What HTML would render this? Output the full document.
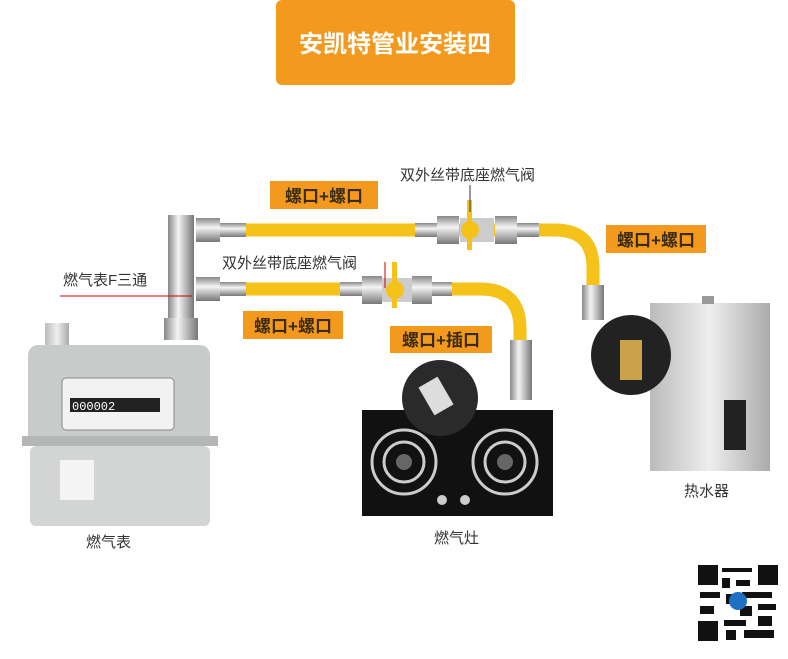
<!DOCTYPE html>
<html><head><meta charset="utf-8"><style>
body{margin:0;background:#fff;width:788px;height:654px;overflow:hidden;font-family:"Liberation Sans","Noto Sans CJK SC",sans-serif}
</style></head><body>
<svg width="788" height="654" viewBox="0 0 788 654" xmlns="http://www.w3.org/2000/svg" font-family="Liberation Sans, Noto Sans CJK SC, sans-serif">
<defs>
<linearGradient id="chrome" x1="0" y1="0" x2="0" y2="1"><stop offset="0" stop-color="#888"/><stop offset=".4" stop-color="#f4f4f4"/><stop offset="1" stop-color="#777"/></linearGradient>
<linearGradient id="chromeV" x1="0" y1="0" x2="1" y2="0"><stop offset="0" stop-color="#888"/><stop offset=".4" stop-color="#f4f4f4"/><stop offset="1" stop-color="#777"/></linearGradient>
<linearGradient id="steel" x1="0" y1="0" x2="1" y2="0"><stop offset="0" stop-color="#bbb"/><stop offset=".5" stop-color="#eee"/><stop offset="1" stop-color="#aaa"/></linearGradient>
</defs>
<!-- header -->
<rect x="276" y="0" width="239" height="85" rx="6" fill="#f39a1e"/>
<text x="395" y="52" font-size="24" fill="#fff" text-anchor="middle" font-weight="bold">安凯特管业安装四</text>

<!-- tee vertical -->
<rect x="168" y="215" width="26" height="110" fill="url(#chromeV)"/>
<rect x="164" y="318" width="34" height="22" fill="url(#chromeV)"/>
<!-- upper pipe -->
<path d="M200 230 H555 Q593 230 593 268 V300" fill="none" stroke="#f5c21a" stroke-width="13"/>
<rect x="196" y="218" width="24" height="24" fill="url(#chrome)"/>
<rect x="220" y="223" width="26" height="14" fill="url(#chrome)"/>
<rect x="415" y="223" width="24" height="14" fill="url(#chrome)"/>
<rect x="437" y="216" width="22" height="28" fill="url(#chrome)"/>
<rect x="495" y="216" width="22" height="28" fill="url(#chrome)"/>
<rect x="517" y="223" width="22" height="14" fill="url(#chrome)"/>
<rect x="460" y="218" width="34" height="24" fill="#ccc"/>
<circle cx="470" cy="230" r="9" fill="#f5c21a"/>
<rect x="467" y="200" width="5" height="50" fill="#f5c21a"/>
<rect x="582" y="285" width="22" height="35" fill="url(#chromeV)"/>
<!-- lower pipe -->
<path d="M200 289 H480 Q520 289 520 329 V345" fill="none" stroke="#f5c21a" stroke-width="13"/>
<rect x="196" y="277" width="24" height="24" fill="url(#chrome)"/>
<rect x="220" y="282" width="26" height="14" fill="url(#chrome)"/>
<rect x="340" y="282" width="24" height="14" fill="url(#chrome)"/>
<rect x="362" y="276" width="20" height="28" fill="url(#chrome)"/>
<rect x="412" y="276" width="20" height="28" fill="url(#chrome)"/>
<rect x="432" y="282" width="20" height="14" fill="url(#chrome)"/>
<rect x="382" y="278" width="30" height="24" fill="#ccc"/>
<circle cx="395" cy="290" r="9" fill="#f5c21a"/>
<rect x="392" y="262" width="5" height="46" fill="#f5c21a"/>
<rect x="510" y="340" width="22" height="60" fill="url(#chromeV)"/>
<!-- pointer lines -->
<line x1="470" y1="185" x2="470" y2="212" stroke="#333"/>
<line x1="385" y1="262" x2="385" y2="288" stroke="#c00"/>
<line x1="60" y1="296" x2="192" y2="296" stroke="#c00"/>

<!-- labels -->
<g font-size="17" font-weight="bold" fill="#3a2a10">
<rect x="270" y="181" width="108" height="28" fill="#f39a1e"/><text x="324" y="202" text-anchor="middle">螺口+螺口</text>
<rect x="606" y="225" width="100" height="28" fill="#f39a1e"/><text x="656" y="246" text-anchor="middle">螺口+螺口</text>
<rect x="243" y="311" width="100" height="28" fill="#f39a1e"/><text x="293" y="332" text-anchor="middle">螺口+螺口</text>
<rect x="390" y="326" width="102" height="27" fill="#f39a1e"/><text x="441" y="346" text-anchor="middle">螺口+插口</text>
</g>
<g font-size="15" fill="#333">
<text x="400" y="180">双外丝带底座燃气阀</text>
<text x="222" y="268">双外丝带底座燃气阀</text>
<text x="63" y="285">燃气表F三通</text>
<text x="86" y="547" font-size="15">燃气表</text>
<text x="434" y="543">燃气灶</text>
<text x="684" y="496">热水器</text>
</g>

<!-- meter -->
<rect x="45" y="323" width="24" height="30" fill="url(#steel)"/>
<rect x="28" y="345" width="182" height="100" rx="10" fill="#c9cbcb"/>
<rect x="22" y="436" width="196" height="10" fill="#b5b7b7"/>
<rect x="30" y="446" width="180" height="80" rx="6" fill="#d3d5d5"/>
<rect x="62" y="378" width="112" height="52" rx="4" fill="#f2f2f2" stroke="#888"/>
<rect x="70" y="398" width="90" height="14" fill="#222"/>
<text x="72" y="410" font-size="12" fill="#fff" font-family="Liberation Mono">000002</text>
<rect x="60" y="460" width="34" height="40" fill="#f4f4f4"/>

<!-- stove -->
<rect x="362" y="410" width="191" height="106" fill="#111"/>
<circle cx="404" cy="462" r="32" fill="none" stroke="#ccc" stroke-width="3"/>
<circle cx="404" cy="462" r="20" fill="none" stroke="#ccc" stroke-width="3"/>
<circle cx="404" cy="462" r="8" fill="#666"/>
<circle cx="505" cy="462" r="32" fill="none" stroke="#ccc" stroke-width="3"/>
<circle cx="505" cy="462" r="20" fill="none" stroke="#ccc" stroke-width="3"/>
<circle cx="505" cy="462" r="8" fill="#666"/>
<circle cx="442" cy="500" r="5" fill="#ccc"/><circle cx="465" cy="500" r="5" fill="#ccc"/>
<circle cx="440" cy="398" r="38" fill="#2a2a2a"/>
<rect x="425" y="380" width="22" height="32" fill="#ddd" transform="rotate(-30 436 396)"/>

<!-- water heater -->
<rect x="650" y="303" width="120" height="168" fill="url(#steel)"/>
<rect x="702" y="296" width="12" height="8" fill="#999"/>
<rect x="724" y="400" width="22" height="50" fill="#222"/>
<circle cx="631" cy="355" r="40" fill="#222"/>
<rect x="620" y="340" width="22" height="40" fill="#c9a24a"/>

<!-- QR -->
<rect x="698" y="565" width="80" height="76" fill="#fff"/>
<g fill="#111">
<rect x="698" y="565" width="20" height="20"/><rect x="758" y="565" width="20" height="20"/><rect x="698" y="621" width="20" height="20"/>
<rect x="722" y="568" width="30" height="4"/><rect x="722" y="578" width="8" height="10"/><rect x="736" y="580" width="14" height="6"/>
<rect x="700" y="592" width="20" height="6"/><rect x="726" y="594" width="10" height="10"/><rect x="742" y="592" width="30" height="6"/>
<rect x="700" y="606" width="14" height="8"/><rect x="740" y="606" width="12" height="10"/><rect x="758" y="604" width="18" height="6"/>
<rect x="724" y="620" width="22" height="6"/><rect x="726" y="630" width="10" height="10"/><rect x="744" y="630" width="30" height="8"/><rect x="758" y="616" width="14" height="10"/>
</g>
<circle cx="738" cy="601" r="9" fill="#1e6fc6"/>
</svg>
</body></html>
